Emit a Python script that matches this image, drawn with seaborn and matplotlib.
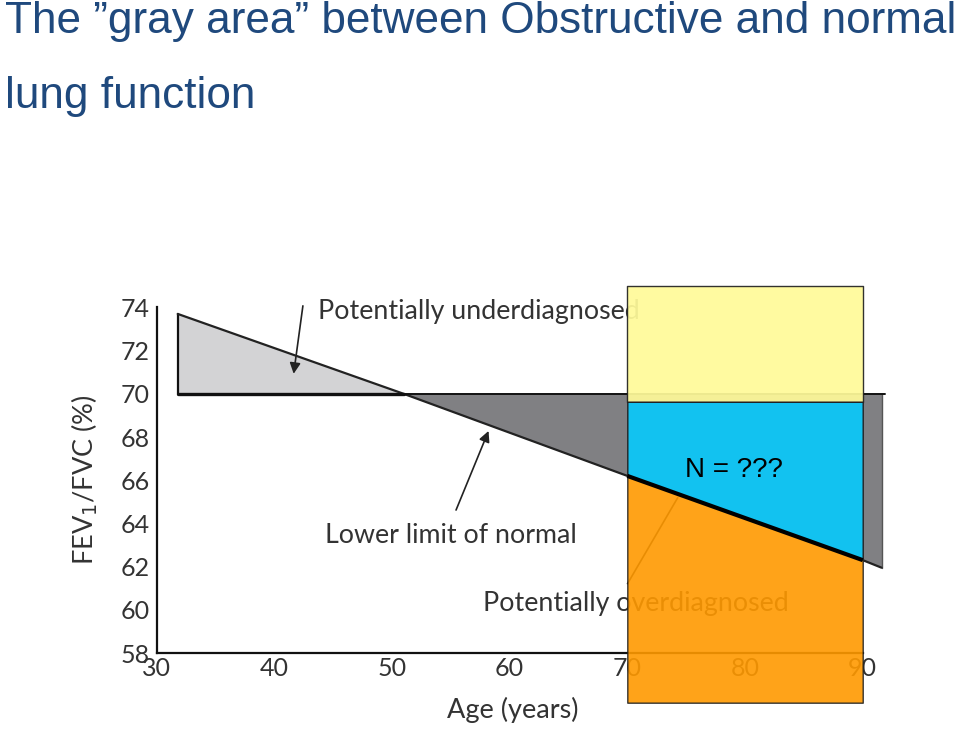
import numpy as np
import pandas as pd
import matplotlib
matplotlib.use("Agg")
import matplotlib.pyplot as plt
import seaborn as sns

# ---- data ----
lln_age = [31.8, 51.0, 70.0, 90.0, 91.6]      # age (years)
lln_val = [73.7, 70.0, 66.2, 62.3, 61.95]     # lower limit of normal FEV1/FVC (%)
fixed_ratio = 70.0                            # fixed 0.70 cut-off
fixed_age = [31.8, 91.9]

under_age = [31.8, 51.0]                      # potentially underdiagnosed
under_top = [73.7, 70.0]
over_age = [51.0, 70.0, 90.0, 91.6]           # potentially overdiagnosed
over_bot = [70.0, 66.2, 62.3, 61.95]

box_age = [70.0, 90.0]                        # overlay box
box_top = 75.0
box_mid = 69.63
box_lln = [66.2, 62.3]
box_bottom = 55.7

x_ticks = [30, 40, 50, 60, 70, 80, 90]
y_ticks = [58, 60, 62, 64, 66, 68, 70, 72, 74]

title_lines = ["The \u201dgray area\u201d between Obstructive and normal", "lung function"]
n_label = "N = ???"

# ---- figure ----
sns.set_theme(style="white")
plt.rcParams["font.family"] = ["Lato", "DejaVu Sans"]
fig = plt.figure(figsize=(9.6, 7.29), dpi=100)
ax = fig.add_axes([0.1385, 0.01536, 0.8092, 0.6222])
ax.set_xlim(28, 94)
ax.set_ylim(55, 76)
ax.patch.set_alpha(0)

txt_col = "#333333"

# gray areas
ax.fill_between(under_age, under_top, fixed_ratio, color="#d3d3d5", lw=0, zorder=1)
ax.fill_between(over_age, fixed_ratio, over_bot, color="#808083", lw=0, zorder=1)
ax.plot([under_age[0], under_age[0]], [fixed_ratio, under_top[0]], color="#111111", lw=1.6, zorder=2)
ax.plot([over_age[-1], over_age[-1]], [fixed_ratio, over_bot[-1]], color="#555555", lw=1.0, zorder=2)

# lines
df_lln = pd.DataFrame({"age": lln_age, "ratio": lln_val})
sns.lineplot(data=df_lln, x="age", y="ratio", ax=ax, color="#222222", lw=1.6, zorder=3)
sns.lineplot(x=fixed_age, y=[fixed_ratio, fixed_ratio], ax=ax, color="#111111", lw=1.4, zorder=3)
ax.plot(under_age, [fixed_ratio, fixed_ratio], color="#111111", lw=2.4, zorder=3)

# spines / ticks
for s in ["top", "right"]:
    ax.spines[s].set_visible(False)
ax.spines["left"].set_position(("data", 30))
ax.spines["bottom"].set_position(("data", 58))
ax.spines["left"].set_bounds(58, 74)
ax.spines["bottom"].set_bounds(30, 90)
for s in ["left", "bottom"]:
    ax.spines[s].set_color("#111111")
    ax.spines[s].set_linewidth(1.6)
ax.set_xticks(x_ticks)
ax.set_yticks(y_ticks)
ax.tick_params(axis="both", direction="in", length=14, width=1.3, color="#111111",
               labelsize=18, labelcolor=txt_col)
ax.tick_params(axis="y", pad=5)
ax.tick_params(axis="x", pad=3)
ax.set_xlabel("")
ax.set_ylabel("")

# axis labels
ax.text(60.3, 55.35, "Age (years)", ha="center", va="center", fontsize=19.5, color=txt_col, clip_on=False)
ax.text(23.9, 66.0, "FEV$_1$/FVC (%)", ha="center", va="center", rotation=90, fontsize=19.5,
        color=txt_col, clip_on=False)

# annotations
ax.text(43.7, 73.83, "Potentially underdiagnosed", ha="left", va="center", fontsize=19.3, color=txt_col)
ax.annotate("", xy=(41.62, 70.8), xytext=(42.47, 74.2),
            arrowprops=dict(arrowstyle="-|>", color="#222222", lw=1.2, mutation_scale=16), zorder=4)
ax.text(44.3, 63.46, "Lower limit of normal", ha="left", va="center", fontsize=19.3, color=txt_col)
ax.annotate("", xy=(58.3, 68.4), xytext=(55.36, 64.5),
            arrowprops=dict(arrowstyle="-|>", color="#222222", lw=1.2, mutation_scale=16), zorder=4)
ax.text(57.7, 60.31, "Potentially overdiagnosed", ha="left", va="center", fontsize=19.3, color=txt_col)
ax.annotate("", xy=(74.4, 65.3), xytext=(69.9, 61.1),
            arrowprops=dict(arrowstyle="-", color="#222222", lw=1.2), zorder=4)

# overlay box
ax.fill_between(box_age, box_top, box_mid, color="#FFFA99", alpha=0.93, edgecolor="#222222",
                lw=1.0, zorder=6, clip_on=False)
ax.fill_between(box_age, box_mid, box_lln, color="#12C2F0", edgecolor="#222222",
                lw=1.0, zorder=6, clip_on=False)
ax.fill_between(box_age, box_lln, box_bottom, color="#FF9900", alpha=0.9, edgecolor="#222222",
                lw=1.0, zorder=6, clip_on=False)
ax.plot(box_age, box_lln, color="black", lw=3, zorder=7, solid_capstyle="butt")
ax.text(74.9, 66.47, n_label, ha="left", va="center", fontsize=20, color="black",
        family=["Liberation Sans", "DejaVu Sans"], zorder=8)

# title (two lines, baselines)
title_font = dict(fontsize=31.8, color="#1F497D", family=["Liberation Sans", "DejaVu Sans"])
fig.text(0.005, 1 - 33 / 729, title_lines[0], ha="left", va="baseline", **title_font)
fig.text(0.005, 1 - 108 / 729, title_lines[1], ha="left", va="baseline", **title_font)

fig.savefig("out.png", dpi=100)
